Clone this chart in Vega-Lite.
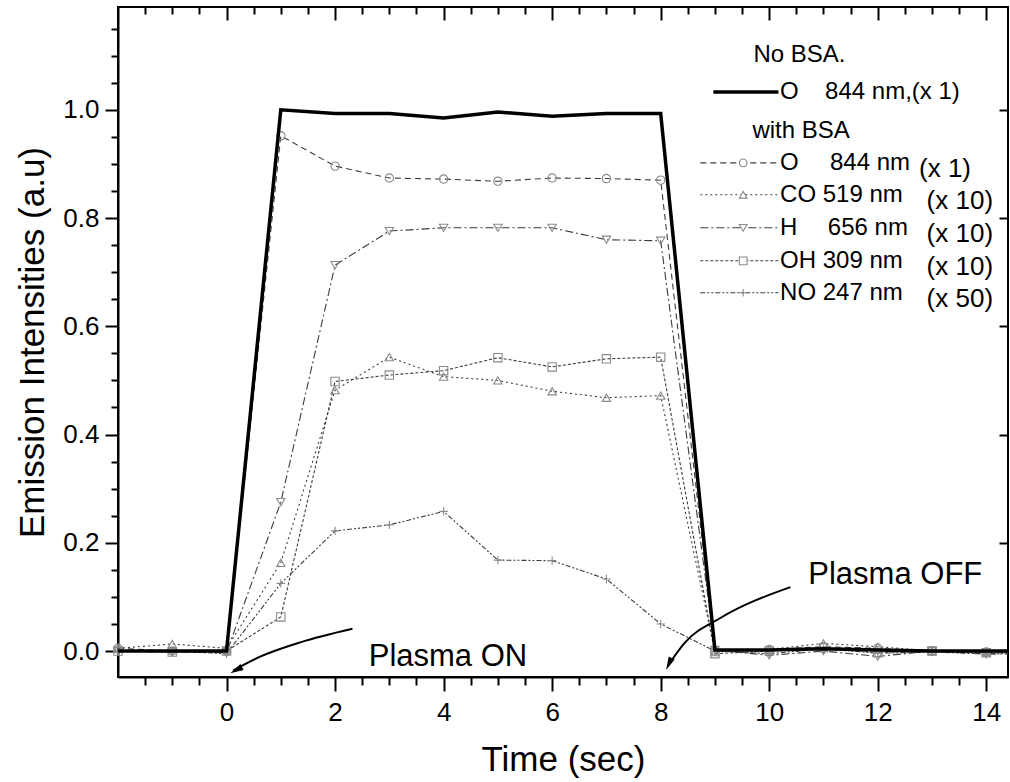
{
  "$schema": "https://vega.github.io/schema/vega-lite/v6.json",
  "width": 890,
  "height": 670,
  "autosize": {"type": "none"},
  "padding": {"left": 118, "top": 7, "right": 2, "bottom": 105},
  "background": "white",
  "config": {
    "font": "Liberation Sans",
    "view": {"stroke": "black", "strokeWidth": 2},
    "axis": {
      "labelFont": "Liberation Sans",
      "titleFont": "Liberation Sans",
      "labelFontSize": 26,
      "titleFontSize": 35,
      "titleFontWeight": "normal",
      "labelColor": "black",
      "titleColor": "black",
      "tickColor": "black",
      "domainColor": "black",
      "tickWidth": 2,
      "domainWidth": 2,
      "grid": false
    }
  },
  "datasets": {
    "series": [
      {"t": -2, "v": 0, "s": "NoBSA"}, {"t": -1, "v": 0, "s": "NoBSA"}, {"t": 0, "v": 0, "s": "NoBSA"}, {"t": 1, "v": 1.0, "s": "NoBSA"}, {"t": 2, "v": 0.993, "s": "NoBSA"}, {"t": 3, "v": 0.993, "s": "NoBSA"}, {"t": 4, "v": 0.985, "s": "NoBSA"}, {"t": 5, "v": 0.996, "s": "NoBSA"}, {"t": 6, "v": 0.988, "s": "NoBSA"}, {"t": 7, "v": 0.993, "s": "NoBSA"}, {"t": 8, "v": 0.993, "s": "NoBSA"}, {"t": 9, "v": 0.002, "s": "NoBSA"}, {"t": 10, "v": 0.002, "s": "NoBSA"}, {"t": 11, "v": 0.004, "s": "NoBSA"}, {"t": 12, "v": 0.002, "s": "NoBSA"}, {"t": 13, "v": 0.0, "s": "NoBSA"}, {"t": 14, "v": 0.0, "s": "NoBSA"}, {"t": 15, "v": 0.0, "s": "NoBSA"},
      {"t": -2, "v": 0.005, "s": "O"}, {"t": -1, "v": 0.0, "s": "O"}, {"t": 0, "v": 0.0, "s": "O"}, {"t": 1, "v": 0.952, "s": "O"}, {"t": 2, "v": 0.896, "s": "O"}, {"t": 3, "v": 0.874, "s": "O"}, {"t": 4, "v": 0.872, "s": "O"}, {"t": 5, "v": 0.868, "s": "O"}, {"t": 6, "v": 0.874, "s": "O"}, {"t": 7, "v": 0.873, "s": "O"}, {"t": 8, "v": 0.87, "s": "O"}, {"t": 9, "v": 0.0, "s": "O"}, {"t": 10, "v": 0.003, "s": "O"}, {"t": 11, "v": 0.008, "s": "O"}, {"t": 12, "v": 0.005, "s": "O"}, {"t": 13, "v": 0.0, "s": "O"}, {"t": 14, "v": -0.002, "s": "O"}, {"t": 15, "v": 0.0, "s": "O"},
      {"t": -2, "v": 0.005, "s": "CO"}, {"t": -1, "v": 0.013, "s": "CO"}, {"t": 0, "v": 0.005, "s": "CO"}, {"t": 1, "v": 0.163, "s": "CO"}, {"t": 2, "v": 0.482, "s": "CO"}, {"t": 3, "v": 0.543, "s": "CO"}, {"t": 4, "v": 0.507, "s": "CO"}, {"t": 5, "v": 0.5, "s": "CO"}, {"t": 6, "v": 0.48, "s": "CO"}, {"t": 7, "v": 0.468, "s": "CO"}, {"t": 8, "v": 0.472, "s": "CO"}, {"t": 9, "v": -0.002, "s": "CO"}, {"t": 10, "v": 0.003, "s": "CO"}, {"t": 11, "v": 0.014, "s": "CO"}, {"t": 12, "v": 0.008, "s": "CO"}, {"t": 13, "v": 0.0, "s": "CO"}, {"t": 14, "v": -0.002, "s": "CO"}, {"t": 15, "v": 0.0, "s": "CO"},
      {"t": -2, "v": 0.0, "s": "H"}, {"t": -1, "v": -0.002, "s": "H"}, {"t": 0, "v": -0.003, "s": "H"}, {"t": 1, "v": 0.275, "s": "H"}, {"t": 2, "v": 0.713, "s": "H"}, {"t": 3, "v": 0.776, "s": "H"}, {"t": 4, "v": 0.782, "s": "H"}, {"t": 5, "v": 0.782, "s": "H"}, {"t": 6, "v": 0.782, "s": "H"}, {"t": 7, "v": 0.76, "s": "H"}, {"t": 8, "v": 0.758, "s": "H"}, {"t": 9, "v": 0.002, "s": "H"}, {"t": 10, "v": -0.008, "s": "H"}, {"t": 11, "v": 0.0, "s": "H"}, {"t": 12, "v": -0.01, "s": "H"}, {"t": 13, "v": 0.0, "s": "H"}, {"t": 14, "v": -0.006, "s": "H"}, {"t": 15, "v": -0.004, "s": "H"},
      {"t": -2, "v": 0.0, "s": "OH"}, {"t": -1, "v": -0.002, "s": "OH"}, {"t": 0, "v": 0.0, "s": "OH"}, {"t": 1, "v": 0.063, "s": "OH"}, {"t": 2, "v": 0.498, "s": "OH"}, {"t": 3, "v": 0.51, "s": "OH"}, {"t": 4, "v": 0.518, "s": "OH"}, {"t": 5, "v": 0.542, "s": "OH"}, {"t": 6, "v": 0.525, "s": "OH"}, {"t": 7, "v": 0.54, "s": "OH"}, {"t": 8, "v": 0.543, "s": "OH"}, {"t": 9, "v": -0.005, "s": "OH"}, {"t": 10, "v": 0.0, "s": "OH"}, {"t": 11, "v": 0.006, "s": "OH"}, {"t": 12, "v": -0.003, "s": "OH"}, {"t": 13, "v": 0.0, "s": "OH"}, {"t": 14, "v": -0.003, "s": "OH"}, {"t": 15, "v": -0.002, "s": "OH"},
      {"t": -2, "v": 0.0, "s": "NO"}, {"t": -1, "v": 0.0, "s": "NO"}, {"t": 0, "v": -0.005, "s": "NO"}, {"t": 1, "v": 0.125, "s": "NO"}, {"t": 2, "v": 0.222, "s": "NO"}, {"t": 3, "v": 0.233, "s": "NO"}, {"t": 4, "v": 0.258, "s": "NO"}, {"t": 5, "v": 0.168, "s": "NO"}, {"t": 6, "v": 0.167, "s": "NO"}, {"t": 7, "v": 0.133, "s": "NO"}, {"t": 8, "v": 0.05, "s": "NO"}, {"t": 9, "v": 0.0, "s": "NO"}, {"t": 10, "v": -0.005, "s": "NO"}, {"t": 11, "v": 0.004, "s": "NO"}, {"t": 12, "v": -0.004, "s": "NO"}, {"t": 13, "v": -0.002, "s": "NO"}, {"t": 14, "v": -0.005, "s": "NO"}, {"t": 15, "v": -0.004, "s": "NO"}
    ],
    "leg": [
      {"s": "O", "y": 0.902}, {"s": "CO", "y": 0.843}, {"s": "H", "y": 0.782}, {"s": "OH", "y": 0.721}, {"s": "NO", "y": 0.662}
    ],
    "legtext": [
      {"x": 9.71, "y": 1.102, "text": "No BSA."},
      {"x": 10.2, "y": 1.033, "text": "O"}, {"x": 11.03, "y": 1.033, "text": "844 nm,(x 1)"},
      {"x": 9.69, "y": 0.961, "text": "with BSA"},
      {"x": 10.2, "y": 0.902, "text": "O"}, {"x": 11.12, "y": 0.902, "text": "844 nm"},
      {"x": 10.2, "y": 0.843, "text": "CO 519 nm"},
      {"x": 10.2, "y": 0.782, "text": "H"}, {"x": 11.08, "y": 0.782, "text": "656 nm"},
      {"x": 10.2, "y": 0.721, "text": "OH 309 nm"},
      {"x": 10.2, "y": 0.662, "text": "NO 247 nm"}
    ],
    "legfac": [
      {"x": 12.76, "y": 0.89, "text": "(x 1)"},
      {"x": 12.9, "y": 0.831, "text": "(x 10)"},
      {"x": 12.9, "y": 0.77, "text": "(x 10)"},
      {"x": 12.9, "y": 0.709, "text": "(x 10)"},
      {"x": 12.9, "y": 0.65, "text": "(x 50)"}
    ],
    "arrows": [
      {"a": "on", "i": 0, "x": 2.32, "y": 0.041}, {"a": "on", "i": 1, "x": 1.36, "y": 0.016}, {"a": "on", "i": 2, "x": 0.63, "y": -0.01}, {"a": "on", "i": 3, "x": 0.12, "y": -0.036},
      {"a": "off", "i": 0, "x": 10.39, "y": 0.118}, {"a": "off", "i": 1, "x": 9.1, "y": 0.061}, {"a": "off", "i": 2, "x": 8.45, "y": 0.016}, {"a": "off", "i": 3, "x": 8.14, "y": -0.026}
    ],
    "heads": [
      {"a": "on", "x": 0.07, "y": -0.041},
      {"a": "off", "x": 8.1, "y": -0.035}
    ],
    "plasma": [
      {"x": 2.62, "y": -0.011, "text": "Plasma ON"},
      {"x": 10.72, "y": 0.14, "text": "Plasma OFF"}
    ]
  },
  "layer": [
    {
      "data": {"name": "series"},
      "mark": {"type": "point", "opacity": 0},
      "encoding": {
        "x": {"field": "t", "type": "quantitative", "scale": {"domain": [-2, 14.4], "nice": false, "zero": false},
          "axis": {"orient": "bottom", "values": [0, 2, 4, 6, 8, 10, 12, 14], "tickSize": 14, "labelPadding": 8, "title": "Time (sec)", "titlePadding": 17, "domain": true}},
        "y": {"field": "v", "type": "quantitative", "scale": {"domain": [-0.048, 1.19], "nice": false, "zero": false},
          "axis": {"orient": "left", "values": [0, 0.2, 0.4, 0.6, 0.8, 1.0], "format": ".1f", "tickSize": 13, "labelPadding": 6, "title": "Emission Intensities (a.u)", "titlePadding": 12, "domain": true}}
      }
    },
    {
      "data": {"name": "series"},
      "mark": {"type": "point", "opacity": 0},
      "encoding": {
        "x": {"field": "t", "type": "quantitative", "scale": {"domain": [-2, 14.4], "nice": false, "zero": false},
          "axis": {"orient": "bottom", "values": [-1.5, -1, -0.5, 0.5, 1, 1.5, 2.5, 3, 3.5, 4.5, 5, 5.5, 6.5, 7, 7.5, 8.5, 9, 9.5, 10.5, 11, 11.5, 12.5, 13, 13.5], "tickSize": 8, "labels": false, "title": null, "domain": false}},
        "y": {"field": "v", "type": "quantitative", "scale": {"domain": [-0.048, 1.19], "nice": false, "zero": false},
          "axis": {"orient": "left", "values": [0.05, 0.1, 0.15, 0.25, 0.3, 0.35, 0.45, 0.5, 0.55, 0.65, 0.7, 0.75, 0.85, 0.9, 0.95, 1.05, 1.1, 1.15], "tickSize": 7, "labels": false, "title": null, "domain": false}}
      }
    },
    {
      "data": {"name": "series"},
      "mark": {"type": "point", "opacity": 0},
      "encoding": {
        "x": {"field": "t", "type": "quantitative", "scale": {"domain": [-2, 14.4], "nice": false, "zero": false},
          "axis": {"orient": "top", "values": [0, 2, 4, 6, 8, 10, 12, 14], "tickSize": -13, "labels": false, "title": null, "domain": false}},
        "y": {"field": "v", "type": "quantitative", "scale": {"domain": [-0.048, 1.19], "nice": false, "zero": false},
          "axis": {"orient": "right", "values": [0.2, 0.4, 0.6, 0.8, 1.0], "tickSize": -9, "labels": false, "title": null, "domain": false}}
      }
    },
    {
      "data": {"name": "series"},
      "mark": {"type": "point", "opacity": 0},
      "encoding": {
        "x": {"field": "t", "type": "quantitative", "scale": {"domain": [-2, 14.4], "nice": false, "zero": false},
          "axis": {"orient": "top", "values": [-1.5, -1, -0.5, 0.5, 1, 1.5, 2.5, 3, 3.5, 4.5, 5, 5.5, 6.5, 7, 7.5, 8.5, 9, 9.5, 10.5, 11, 11.5, 12.5, 13, 13.5], "tickSize": -7, "labels": false, "title": null, "domain": false}},
        "y": {"field": "v", "type": "quantitative", "scale": {"domain": [-0.048, 1.19], "nice": false, "zero": false}, "axis": null}
      }
    },
    {
      "data": {"name": "series"},
      "transform": [{"filter": "datum.s !== 'NoBSA'"}],
      "mark": {"type": "line", "clip": true, "strokeWidth": 1.1, "color": "#3c3c3c"},
      "encoding": {
        "x": {"field": "t", "type": "quantitative", "scale": {"domain": [-2, 14.4], "nice": false, "zero": false}, "axis": null},
        "y": {"field": "v", "type": "quantitative", "scale": {"domain": [-0.048, 1.19], "nice": false, "zero": false}, "axis": null},
        "detail": {"field": "s"},
        "strokeDash": {"field": "s", "type": "nominal", "legend": null,
          "scale": {"domain": ["O", "CO", "H", "OH", "NO"], "range": [[6, 4], [2, 3], [8, 3, 2, 3], [3, 2], [5, 2, 2, 2, 2, 2]]}}
      }
    },
    {
      "data": {"name": "series"},
      "transform": [{"filter": "datum.s !== 'NoBSA' && datum.t <= 14"}],
      "mark": {"type": "point", "filled": false, "stroke": "#8a8a8a", "strokeWidth": 1.1, "size": 70, "opacity": 1},
      "encoding": {
        "x": {"field": "t", "type": "quantitative", "scale": {"domain": [-2, 14.4], "nice": false, "zero": false}, "axis": null},
        "y": {"field": "v", "type": "quantitative", "scale": {"domain": [-0.048, 1.19], "nice": false, "zero": false}, "axis": null},
        "shape": {"field": "s", "type": "nominal", "legend": null,
          "scale": {"domain": ["O", "CO", "H", "OH", "NO"], "range": ["circle", "triangle-up", "triangle-down", "square", "M-1,0L1,0M0,-1L0,1"]}}
      }
    },
    {
      "data": {"name": "series"},
      "transform": [{"filter": "datum.s === 'NoBSA'"}],
      "mark": {"type": "line", "clip": true, "strokeWidth": 3.5, "color": "black"},
      "encoding": {
        "x": {"field": "t", "type": "quantitative", "scale": {"domain": [-2, 14.4], "nice": false, "zero": false}, "axis": null},
        "y": {"field": "v", "type": "quantitative", "scale": {"domain": [-0.048, 1.19], "nice": false, "zero": false}, "axis": null}
      }
    },
    {
      "data": {"name": "leg"},
      "mark": {"type": "rule", "strokeWidth": 1.1, "color": "#3c3c3c"},
      "encoding": {
        "x": {"datum": 8.73, "type": "quantitative", "scale": {"domain": [-2, 14.4], "nice": false, "zero": false}, "axis": null},
        "x2": {"datum": 10.17},
        "y": {"field": "y", "type": "quantitative", "scale": {"domain": [-0.048, 1.19], "nice": false, "zero": false}, "axis": null},
        "strokeDash": {"field": "s", "type": "nominal", "legend": null,
          "scale": {"domain": ["O", "CO", "H", "OH", "NO"], "range": [[6, 4], [2, 3], [8, 3, 2, 3], [3, 2], [5, 2, 2, 2, 2, 2]]}}
      }
    },
    {
      "data": {"name": "leg"},
      "mark": {"type": "point", "filled": true, "fill": "white", "stroke": "#8a8a8a", "strokeWidth": 1.1, "size": 60, "opacity": 1},
      "encoding": {
        "x": {"datum": 9.52, "type": "quantitative", "scale": {"domain": [-2, 14.4], "nice": false, "zero": false}, "axis": null},
        "y": {"field": "y", "type": "quantitative", "scale": {"domain": [-0.048, 1.19], "nice": false, "zero": false}, "axis": null},
        "shape": {"field": "s", "type": "nominal", "legend": null,
          "scale": {"domain": ["O", "CO", "H", "OH", "NO"], "range": ["circle", "triangle-up", "triangle-down", "square", "M-1,0L1,0M0,-1L0,1"]}}
      }
    },
    {
      "data": {"values": [{"y": 1.033}]},
      "mark": {"type": "rule", "strokeWidth": 3.5, "color": "black"},
      "encoding": {
        "x": {"datum": 8.97, "type": "quantitative", "scale": {"domain": [-2, 14.4], "nice": false, "zero": false}, "axis": null},
        "x2": {"datum": 10.17},
        "y": {"field": "y", "type": "quantitative", "scale": {"domain": [-0.048, 1.19], "nice": false, "zero": false}, "axis": null}
      }
    },
    {
      "data": {"name": "legtext"},
      "mark": {"type": "text", "align": "left", "baseline": "middle", "font": "Liberation Sans", "fontSize": 24, "color": "black"},
      "encoding": {
        "x": {"field": "x", "type": "quantitative", "scale": {"domain": [-2, 14.4], "nice": false, "zero": false}, "axis": null},
        "y": {"field": "y", "type": "quantitative", "scale": {"domain": [-0.048, 1.19], "nice": false, "zero": false}, "axis": null},
        "text": {"field": "text"}
      }
    },
    {
      "data": {"name": "legfac"},
      "mark": {"type": "text", "align": "left", "baseline": "middle", "font": "Liberation Sans", "fontSize": 26, "color": "black"},
      "encoding": {
        "x": {"field": "x", "type": "quantitative", "scale": {"domain": [-2, 14.4], "nice": false, "zero": false}, "axis": null},
        "y": {"field": "y", "type": "quantitative", "scale": {"domain": [-0.048, 1.19], "nice": false, "zero": false}, "axis": null},
        "text": {"field": "text"}
      }
    },
    {
      "data": {"name": "arrows"},
      "mark": {"type": "line", "interpolate": "monotone", "strokeWidth": 2, "color": "black"},
      "encoding": {
        "x": {"field": "x", "type": "quantitative", "scale": {"domain": [-2, 14.4], "nice": false, "zero": false}, "axis": null},
        "y": {"field": "y", "type": "quantitative", "scale": {"domain": [-0.048, 1.19], "nice": false, "zero": false}, "axis": null},
        "detail": {"field": "a"},
        "order": {"field": "i", "type": "quantitative"}
      }
    },
    {
      "data": {"name": "heads"},
      "transform": [{"filter": "datum.a === 'on'"}],
      "mark": {"type": "point", "shape": "M0,0L0.55,2.2L-0.55,2.2Z", "filled": true, "color": "black", "size": 144, "angle": 242, "opacity": 1},
      "encoding": {
        "x": {"field": "x", "type": "quantitative", "scale": {"domain": [-2, 14.4], "nice": false, "zero": false}, "axis": null},
        "y": {"field": "y", "type": "quantitative", "scale": {"domain": [-0.048, 1.19], "nice": false, "zero": false}, "axis": null}
      }
    },
    {
      "data": {"name": "heads"},
      "transform": [{"filter": "datum.a === 'off'"}],
      "mark": {"type": "point", "shape": "M0,0L0.55,2.2L-0.55,2.2Z", "filled": true, "color": "black", "size": 144, "angle": 205, "opacity": 1},
      "encoding": {
        "x": {"field": "x", "type": "quantitative", "scale": {"domain": [-2, 14.4], "nice": false, "zero": false}, "axis": null},
        "y": {"field": "y", "type": "quantitative", "scale": {"domain": [-0.048, 1.19], "nice": false, "zero": false}, "axis": null}
      }
    },
    {
      "data": {"name": "plasma"},
      "mark": {"type": "text", "align": "left", "baseline": "middle", "font": "Liberation Sans", "fontSize": 31, "color": "black"},
      "encoding": {
        "x": {"field": "x", "type": "quantitative", "scale": {"domain": [-2, 14.4], "nice": false, "zero": false}, "axis": null},
        "y": {"field": "y", "type": "quantitative", "scale": {"domain": [-0.048, 1.19], "nice": false, "zero": false}, "axis": null},
        "text": {"field": "text"}
      }
    }
  ],
  "resolve": {"axis": {"x": "independent", "y": "independent"}}
}
